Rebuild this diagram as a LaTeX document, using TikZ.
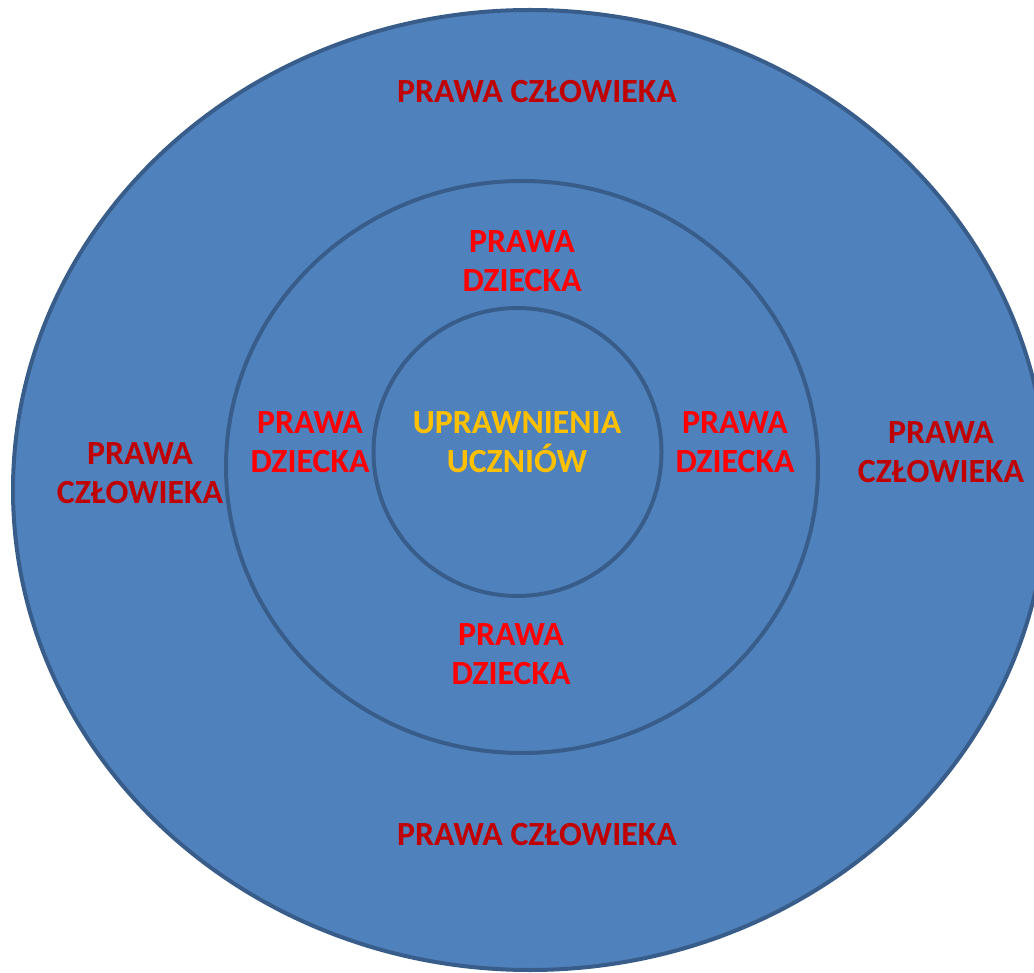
\documentclass[tikz,border=0pt]{standalone}
\usepackage{fontspec}
\setmainfont{Carlito}
\definecolor{fillblue}{HTML}{4F81BD}
\definecolor{edgeblue}{HTML}{385D8A}
\definecolor{humanred}{HTML}{C00000}
\definecolor{childred}{HTML}{FF0000}
\definecolor{pupilgold}{HTML}{FFC000}
\begin{document}
\begin{tikzpicture}[x=1pt,y=-1pt,
  ring/.style={fill=fillblue,draw=edgeblue,line width=4pt},
  lbl/.style={align=center,inner sep=0pt,font=\fontsize{33.8}{38.5}\selectfont\bfseries},
  human/.style={lbl,text=humanred},
  child/.style={lbl,text=childred},
  pupil/.style={lbl,text=pupilgold}]
\useasboundingbox (0,0) rectangle (1034,973);
\clip (0,0) rectangle (1034,973);
\draw[ring] (530,490) ellipse [x radius=517,y radius=480];
\draw[ring] (522,467) ellipse [x radius=296,y radius=286];
\draw[ring] (517.5,452) ellipse [x radius=144,y radius=144];
\node[human] (ht) at (537,92) {PRAWA CZŁOWIEKA};
\node[human] (hb) at (537,835) {PRAWA CZŁOWIEKA};
\node[human] (hl) at (140,473) {PRAWA\\CZŁOWIEKA};
\node[human] (hr) at (941,452) {PRAWA\\CZŁOWIEKA};
\node[child] (ct) at (522,261) {PRAWA\\DZIECKA};
\node[child] (cb) at (511,654) {PRAWA\\DZIECKA};
\node[child] (cl) at (310,442) {PRAWA\\DZIECKA};
\node[child] (cr) at (735,442) {PRAWA\\DZIECKA};
\node[pupil] (pu) at (517,442) {UPRAWNIENIA\\UCZNIÓW};
\end{tikzpicture}
\end{document}
